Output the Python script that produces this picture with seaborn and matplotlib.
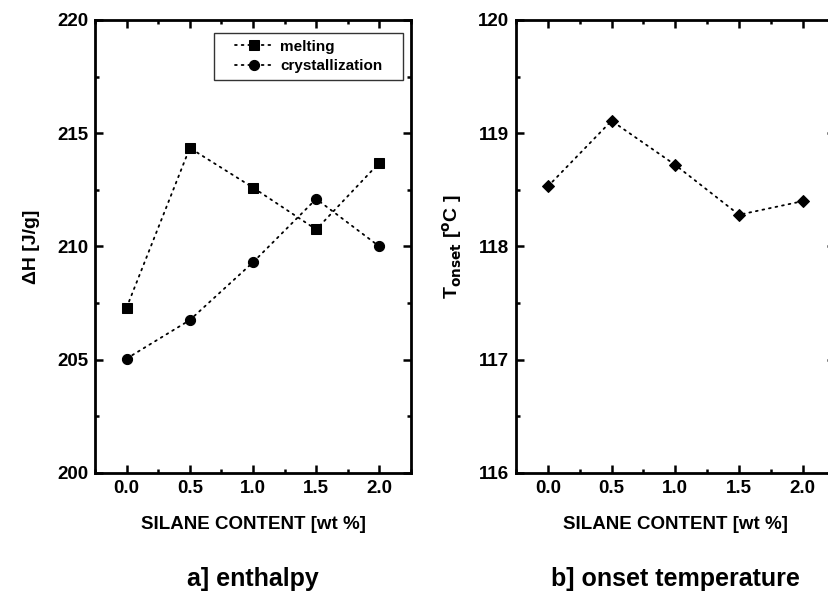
import matplotlib
matplotlib.use("Agg")
import matplotlib.pyplot as plt
from matplotlib.path import Path
from matplotlib.ticker import MultipleLocator, FormatStrFormatter
import pandas as pd
import seaborn as sns

sns.set_theme(style="ticks")
plt.rcParams["font.family"] = ["Liberation Sans", "DejaVu Sans"]
plt.rcParams["font.weight"] = "bold"
plt.rcParams["axes.labelweight"] = "bold"
plt.rcParams["text.color"] = "black"
plt.rcParams["axes.labelcolor"] = "black"

# Silane content (wt %)
silane = [0.0, 0.5, 1.0, 1.5, 2.0]
# Enthalpy (J/g)
dh_melting = [207.3, 214.35, 212.6, 210.75, 213.7]
dh_crystallization = [205.05, 206.75, 209.3, 212.1, 210.0]
# Onset temperature (°C)
t_onset = [118.53, 119.11, 118.72, 118.28, 118.40]

enthalpy = pd.DataFrame({
    "silane": silane * 2,
    "dH": dh_melting + dh_crystallization,
    "process": ["melting"] * 5 + ["crystallization"] * 5,
})
onset = pd.DataFrame({"silane": silane, "T": t_onset})

DOT = (0, (1, 2.7))
MARKER_SIZE = {"s": 6.6, "o": 7.3, "D": 5.8}

fig = plt.figure(figsize=(8.29, 5.93), dpi=100)
ax1 = fig.add_axes([0.1146, 0.2024, 0.3812, 0.7639])
ax2 = fig.add_axes([0.6224, 0.2024, 0.3843, 0.7639])

sns.lineplot(data=enthalpy, x="silane", y="dH", style="process",
             markers={"melting": "s", "crystallization": "o"},
             dashes=False, color="black", linewidth=1.3,
             markeredgecolor="black", ax=ax1)

sns.lineplot(data=onset, x="silane", y="T", marker="D", color="black",
             linewidth=1.3, markeredgecolor="black", ax=ax2)


def dotted(line):
    line.set_linestyle(DOT)
    line.set_dash_capstyle("round")
    line.set_color("black")
    line.set_linewidth(1.3)
    m = line.get_marker()
    if m in MARKER_SIZE:
        line.set_markersize(MARKER_SIZE[m])


for line in ax1.lines + ax2.lines:
    dotted(line)


def style_axes(ax, ylim, ymajor, yminor):
    ax.set_xlim(-0.25, 2.25)
    ax.set_ylim(*ylim)
    ax.xaxis.set_major_locator(MultipleLocator(0.5))
    ax.xaxis.set_minor_locator(MultipleLocator(0.25))
    ax.yaxis.set_major_locator(MultipleLocator(ymajor))
    ax.yaxis.set_minor_locator(MultipleLocator(yminor))
    ax.xaxis.set_major_formatter(FormatStrFormatter("%.1f"))
    ax.yaxis.set_major_formatter(FormatStrFormatter("%d"))
    ax.tick_params(which="both", direction="in", top=True, right=True,
                   colors="black", labelsize=13.5, pad=5)
    ax.tick_params(which="major", length=6, width=1.8)
    ax.tick_params(which="minor", length=3, width=1.8)
    for lab in ax.get_xticklabels() + ax.get_yticklabels():
        lab.set_fontweight("bold")
    for sp in ax.spines.values():
        sp.set_linewidth(2)
        sp.set_color("black")
    ax.set_xlabel("SILANE CONTENT [wt %]", fontsize=13.5, fontweight="bold",
                  labelpad=14)


style_axes(ax1, (200, 220), 5, 2.5)
ax1.set_ylabel("ΔH [J/g]", fontsize=14, fontweight="bold", labelpad=12)

style_axes(ax2, (116, 120), 1, 0.5)
ax2.set_ylabel(r"T$_{\mathbf{onset}}$ [$^{\mathbf{o}}$C ]", fontsize=14,
               fontweight="bold", labelpad=10)


def wide_frame(x0, y0, width, height, mutation_size):
    # rectangular legend frame with extra room at the left and right
    px = 0.9 * mutation_size
    x0, x1 = x0 - px, x0 + width + px
    y1 = y0 + height
    return Path([(x0, y0), (x1, y0), (x1, y1), (x0, y1), (x0, y0)],
                closed=True)


leg = ax1.legend(loc="upper right", bbox_to_anchor=(0.932, 0.972),
                 frameon=True, fancybox=False, edgecolor="black",
                 prop={"weight": "bold", "size": 11}, handlelength=2.6,
                 handletextpad=0.4, borderpad=0.45, labelspacing=0.35,
                 borderaxespad=0.0)
leg.get_frame().set_linewidth(1.0)
leg.get_frame().set_boxstyle(wide_frame)
for h in leg.get_lines():
    dotted(h)

ax1.text(0.5, -0.235, "a] enthalpy", transform=ax1.transAxes,
         ha="center", va="center", fontsize=18, fontweight="bold")
ax2.text(0.5, -0.235, "b] onset temperature", transform=ax2.transAxes,
         ha="center", va="center", fontsize=18, fontweight="bold")

fig.savefig("out.png", dpi=100, facecolor="white")
